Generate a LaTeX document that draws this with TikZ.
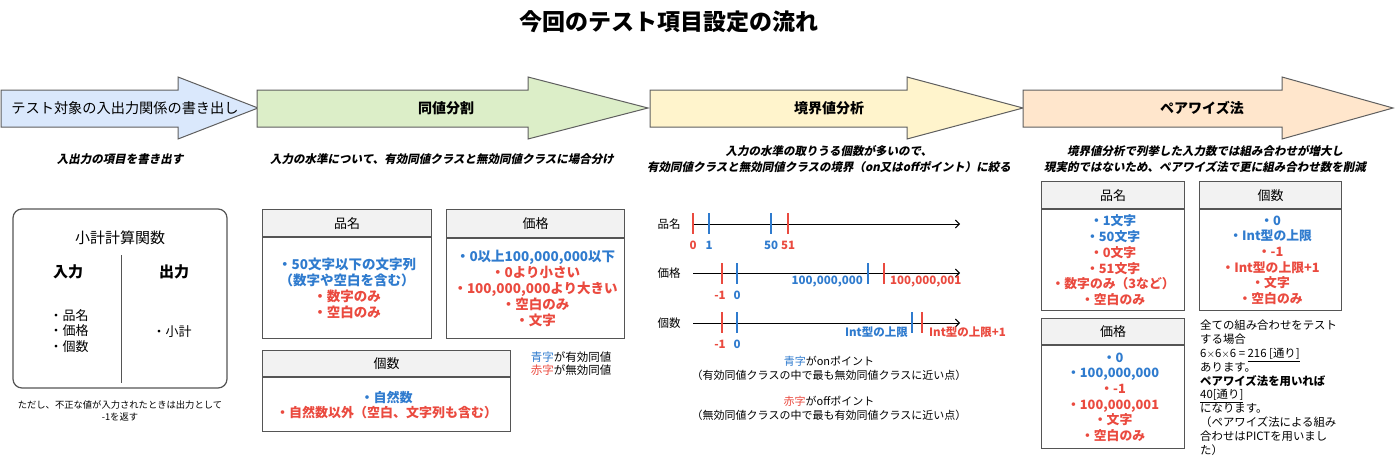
\documentclass[tikz,border=0pt]{standalone}
\usepackage{fontspec}
\setmainfont{Noto Sans CJK JP}
\newfontfamily\slantjp[FakeSlant=0.2, BoldFeatures={FakeSlant=0.2}]{Noto Sans CJK JP}
\usepackage{xcolor}
\usepackage{tikz}
\usetikzlibrary{positioning,arrows.meta}

\definecolor{stgblue}{HTML}{DAE8FC}
\definecolor{stggreen}{HTML}{DCEEC8}
\definecolor{stgyellow}{HTML}{FFF4CC}
\definecolor{stgorange}{HTML}{FFE6CC}
\definecolor{arrowline}{HTML}{5F5F5F}
\definecolor{boxline}{HTML}{555555}
\definecolor{hdrgray}{HTML}{F2F2F2}
\definecolor{onblue}{HTML}{2F7BCE}
\definecolor{offred}{HTML}{EA4A3F}

\begin{document}
\begin{tikzpicture}[
  x=1pt, y=-1pt, font=\fontsize{11.5}{14}\selectfont,
  stage/.style    = {draw=arrowline, line width=1pt, line join=miter},
  stagetxt/.style = {inner sep=0pt, font=\bfseries\fontsize{14}{17}\selectfont},
  note/.style     = {align=center, inner sep=0pt, font=\slantjp\bfseries\fontsize{11.5}{16}\selectfont},
  hdr/.style      = {draw=boxline, fill=hdrgray, line width=1.2pt, anchor=north west, inner sep=0pt,
                     font=\fontsize{13}{16}\selectfont},
  cls/.style      = {draw=boxline, line width=1.2pt, inner sep=0pt, align=center,
                     font=\bfseries\fontsize{13.5}{16}\selectfont},
  pw/.style       = {draw=boxline, line width=1.2pt, inner sep=0pt, align=center,
                     font=\bfseries\fontsize{12.8}{15.7}\selectfont},
  axis/.style     = {line width=0.9pt, -{Straight Barb[length=4pt,width=8pt]}},
  tick/.style     = {line width=2pt},
  num/.style      = {inner sep=0pt, font=\bfseries\fontsize{11.5}{14}\selectfont}
]
\useasboundingbox (0,0) rectangle (1400,458);

\node[font=\bfseries\fontsize{23}{27}\selectfont] (title) at (669,22) {今回のテスト項目設定の流れ};

% flow of stages
\draw[stage, fill=stgblue]   (1,90) -- (178,90) -- (178,77) -- (258,108) -- (178,139) -- (178,127) -- (1,127) -- cycle;
\draw[stage, fill=stggreen]  (257,90) -- (528,90) -- (528,77) -- (648,108) -- (528,139) -- (528,127) -- (257,127) -- cycle;
\draw[stage, fill=stgyellow] (650,90) -- (907,90) -- (907,77) -- (1023,108) -- (907,139) -- (907,127) -- (650,127) -- cycle;
\draw[stage, fill=stgorange] (1023,90) -- (1282,90) -- (1282,77) -- (1393,108) -- (1282,139) -- (1282,127) -- (1023,127) -- cycle;
\node[stagetxt, font=\fontsize{14.2}{17}\selectfont] (stage1) at (125,108) {テスト対象の入出力関係の書き出し};
\node[stagetxt] (stage2) at (446,108) {同値分割};
\node[stagetxt] (stage3) at (829,108) {境界値分析};
\node[stagetxt] (stage4) at (1202,108) {ペアワイズ法};

\node[note] (note1) at (120,159) {入出力の項目を書き出す};
\node[note] (note2) at (442,159) {入力の水準について、有効同値クラスと無効同値クラスに場合分け};
\node[note] (note3) at (829,159) {入力の水準の取りうる個数が多いので、\\有効同値クラスと無効同値クラスの境界（on又はoffポイント）に絞る};
\node[note] (note4) at (1205,159) {境界値分析で列挙した入力数では組み合わせが増大し\\現実的ではないため、ペアワイズ法で更に組み合わせ数を削減};

% function under test
\node[draw=boxline, line width=1.2pt, rounded corners=9pt, minimum width=214, minimum height=179, inner sep=0pt] (func) at (120,298.5) {};
\node[font=\fontsize{15}{18}\selectfont] (functitle) at (120,238) {小計計算関数};
\coordinate (divtop) at (121,255);
\coordinate (divbot) at (121,383);
\draw[boxline, line width=0.9pt] (divtop) -- (divbot);
\node[font=\bfseries\fontsize{15}{18}\selectfont] (inhdr)  at (68,272)  {入力};
\node[font=\bfseries\fontsize{15}{18}\selectfont] (outhdr) at (174,272) {出力};
\node[align=left, font=\fontsize{13}{15.5}\selectfont] (inlist) at (69,331) {・品名\\・価格\\・個数};
\node[font=\fontsize{13}{15.5}\selectfont] (outlist) at (172,332) {・小計};
\node[align=center, font=\fontsize{9.3}{12.5}\selectfont] (funcnote) at (120,411) {ただし、不正な値が入力されたときは出力として\\-1を返す};

% equivalence classes
\node[hdr, minimum width=169, minimum height=27] (eqname) at (262,209) {品名};
\node[cls, minimum width=169, minimum height=101, below=0pt of eqname] (eqnamebody)
  {\textcolor{onblue}{・50文字以下の文字列}\\\textcolor{onblue}{（数字や空白を含む）}\\
   \textcolor{offred}{・数字のみ}\\\textcolor{offred}{・空白のみ}};
\node[hdr, minimum width=178, minimum height=28] (eqprice) at (446,209) {価格};
\node[cls, minimum width=178, minimum height=100, below=0pt of eqprice] (eqpricebody)
  {\textcolor{onblue}{・0以上100,000,000以下}\\\textcolor{offred}{・0より小さい}\\
   \textcolor{offred}{・100,000,000より大きい}\\\textcolor{offred}{・空白のみ}\\\textcolor{offred}{・文字}};
\node[hdr, minimum width=248, minimum height=26] (eqqty) at (262,350) {個数};
\node[cls, minimum width=248, minimum height=54, below=0pt of eqqty, font=\bfseries\fontsize{13}{15}\selectfont] (eqqtybody)
  {\textcolor{onblue}{・自然数}\\\textcolor{offred}{・自然数以外（空白、文字列も含む）}};
\node[align=left, font=\fontsize{11.5}{13}\selectfont] (eqlegend) at (571,363.5)
  {\textcolor{onblue}{青字}が有効同値\\\textcolor{offred}{赤字}が無効同値};

% boundary values
\node (bvname)  at (669,224) {品名};
\node (bvprice) at (669,273) {価格};
\node (bvqty)   at (669,323) {個数};
\coordinate (bvnameL)  at (693,224); \coordinate (bvnameR)  at (960,224);
\coordinate (bvpriceL) at (693,273); \coordinate (bvpriceR) at (960,273);
\coordinate (bvqtyL)   at (693,323); \coordinate (bvqtyR)   at (960,323);
\draw[axis] (bvnameL)  -- (bvnameR);
\draw[axis] (bvpriceL) -- (bvpriceR);
\draw[axis] (bvqtyL)   -- (bvqtyR);
\foreach \tx/\tc in {693/offred, 709/onblue, 771/onblue, 788/offred}
  \draw[tick, \tc] (\tx,213) -- (\tx,234);
\foreach \tx/\tc in {722/offred, 737/onblue, 868/onblue, 884/offred}
  \draw[tick, \tc] (\tx,263) -- (\tx,284);
\foreach \tx/\tc in {722/offred, 737/onblue, 912/onblue, 922/offred}
  \draw[tick, \tc] (\tx,312) -- (\tx,333);
\node[num, offred] (bvn0)  at (693,245) {0};
\node[num, onblue] (bvn1)  at (709,245) {1};
\node[num, onblue] (bvn50) at (771,245) {50};
\node[num, offred] (bvn51) at (788,245) {51};
\node[num, offred] (bvpm1) at (720,295) {-1};
\node[num, onblue] (bvp0)  at (737,295) {0};
\node[num, onblue, anchor=east] (bvpmax) at (863,282) {100,000,000};
\node[num, offred, anchor=west] (bvpout) at (890,282) {100,000,001};
\node[num, offred] (bvqm1) at (720,344) {-1};
\node[num, onblue] (bvq0)  at (737,344) {0};
\node[num, onblue, anchor=east] (bvqmax) at (908,332) {Int型の上限};
\node[num, offred, anchor=west] (bvqout) at (929,332) {Int型の上限+1};
\node[align=center, font=\fontsize{11}{13.5}\selectfont] (onnote) at (829,368.5)
  {\textcolor{onblue}{青字}がonポイント\\（有効同値クラスの中で最も無効同値クラスに近い点）};
\node[align=center, font=\fontsize{11}{13.5}\selectfont] (offnote) at (829,408.5)
  {\textcolor{offred}{赤字}がoffポイント\\（無効同値クラスの中で最も有効同値クラスに近い点）};

% pairwise
\node[hdr, minimum width=143, minimum height=27] (pwname) at (1041,181) {品名};
\node[pw, minimum width=143, minimum height=101, below=0pt of pwname] (pwnamebody)
  {\textcolor{onblue}{・1文字}\\\textcolor{onblue}{・50文字}\\\textcolor{offred}{・0文字}\\
   \textcolor{offred}{・51文字}\\\textcolor{offred}{・数字のみ（3など）}\\\textcolor{offred}{・空白のみ}};
\node[hdr, minimum width=142, minimum height=27] (pwqty) at (1199,181) {個数};
\node[pw, minimum width=142, minimum height=101, below=0pt of pwqty] (pwqtybody)
  {\textcolor{onblue}{・0}\\\textcolor{onblue}{・Int型の上限}\\\textcolor{offred}{・-1}\\
   \textcolor{offred}{・Int型の上限+1}\\\textcolor{offred}{・文字}\\\textcolor{offred}{・空白のみ}};
\node[hdr, minimum width=143, minimum height=26] (pwprice) at (1041,318) {価格};
\node[pw, minimum width=143, minimum height=103, below=0pt of pwprice] (pwpricebody)
  {\textcolor{onblue}{・0}\\\textcolor{onblue}{・100,000,000}\\\textcolor{offred}{・-1}\\
   \textcolor{offred}{・100,000,001}\\\textcolor{offred}{・文字}\\\textcolor{offred}{・空白のみ}};
\node[anchor=north west, align=left, inner sep=0pt, font=\fontsize{11.4}{13.8}\selectfont] (pwtotal) at (1200,320)
  {全ての組み合わせをテスト\\する場合\\6$\times$6$\times$6 = \underline{216 [通り]}\\あります。\\
   \textbf{ペアワイズ法を用いれば}\\\underline{40[通り]}\\になります。\\
   （ペアワイズ法による組み\\合わせはPICTを用いまし\\た）};
\end{tikzpicture}
\end{document}
